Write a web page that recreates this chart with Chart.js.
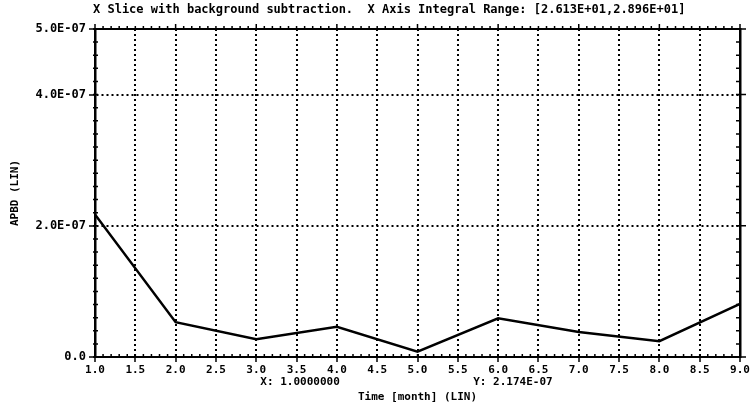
<!DOCTYPE html>
<html>
<head>
<meta charset="utf-8">
<script src="https://cdn.jsdelivr.net/npm/chart.js@4.4.0/dist/chart.umd.min.js"></script>
<style>
  html, body { margin: 0; padding: 0; background: #fff; }
  canvas { display: block; }
</style>
</head>
<body>
<canvas id="slice" width="752" height="406"></canvas>
<script>
// data (month vs APBD)
const months = [1, 2, 3, 4, 5, 6, 7, 8, 9];
const apbd = [2.174e-7, 0.53e-7, 0.27e-7, 0.46e-7, 0.08e-7, 0.59e-7, 0.38e-7, 0.24e-7, 0.81e-7];

const xTickValues = [1, 1.5, 2, 2.5, 3, 3.5, 4, 4.5, 5, 5.5, 6, 6.5, 7, 7.5, 8, 8.5, 9];
const xTickLabels = ['1.0', '1.5', '2.0', '2.5', '3.0', '3.5', '4.0', '4.5', '5.0', '5.5', '6.0', '6.5', '7.0', '7.5', '8.0', '8.5', '9.0'];
const yTickValues = [0, 2e-7, 4e-7, 5e-7];
const yTickLabels = ['0.0', '2.0E-07', '4.0E-07', '5.0E-07'];
const xMinorStep = 0.1;
const yMinorStep = 0.2e-7;

const titleText = 'X Slice with background subtraction.  X Axis Integral Range: [2.613E+01,2.896E+01]';
const xTitle = 'Time [month] (LIN)';
const yTitle = 'APBD (LIN)';
const cursorX = 'X: 1.0000000';
const cursorY = 'Y: 2.174E-07';

const FONT = '"DejaVu Sans Mono", "Liberation Mono", monospace';

// minor ticks on all four sides of the frame
const frameTicks = {
  id: 'frameTicks',
  afterDraw(chart) {
    const { ctx, chartArea: a, scales: { x, y } } = chart;
    ctx.save();
    ctx.strokeStyle = '#000';
    ctx.lineWidth = 1.5;
    ctx.beginPath();
    const nx = Math.round((x.max - x.min) / xMinorStep);
    for (let i = 0; i <= nx; i++) {
      const px = x.getPixelForValue(x.min + i * xMinorStep);
      const major = i % 10 === 0;
      ctx.moveTo(px, a.bottom - 3); ctx.lineTo(px, a.bottom + 1);
      ctx.moveTo(px, a.top + 1); ctx.lineTo(px, a.top - (major ? 5 : 3));
    }
    const ny = Math.round((y.max - y.min) / yMinorStep);
    for (let i = 0; i <= ny; i++) {
      const py = y.getPixelForValue(y.min + i * yMinorStep);
      ctx.moveTo(a.left - 2, py); ctx.lineTo(a.left + 3, py);
      ctx.moveTo(a.right - 4, py); ctx.lineTo(a.right + 1, py);
    }
    yTickValues.forEach(v => {
      const py = y.getPixelForValue(v);
      ctx.moveTo(a.right, py); ctx.lineTo(a.right + 6, py);
    });
    ctx.stroke();
    ctx.restore();
  }
};

// title, axis titles and the cursor readout
const labels = {
  id: 'labels',
  afterDraw(chart) {
    const { ctx, chartArea: a } = chart;
    ctx.save();
    ctx.fillStyle = '#000';
    ctx.font = 'bold 12px ' + FONT;
    ctx.textBaseline = 'middle';
    ctx.textAlign = 'left';
    ctx.fillText(titleText, a.left - 2, 10);

    ctx.font = 'bold 11px ' + FONT;
    ctx.textAlign = 'center';
    ctx.fillText(cursorX, a.left + (a.right - a.left) * 0.318, 382);
    ctx.fillText(cursorY, a.left + (a.right - a.left) * 0.648, 382);
    ctx.fillText(xTitle, (a.left + a.right) / 2, 397);

    ctx.translate(15, (a.top + a.bottom) / 2);
    ctx.rotate(-Math.PI / 2);
    ctx.fillText(yTitle, 0, 0);
    ctx.restore();
  }
};

const dotted = {
  color: '#000',
  lineWidth: 2,
  drawTicks: true,
  tickLength: 5,
  tickWidth: 1.5,
  tickBorderDash: []
};

new Chart(document.getElementById('slice'), {
  type: 'line',
  data: {
    datasets: [{
      data: months.map((m, i) => ({ x: m, y: apbd[i] })),
      borderColor: '#000',
      borderWidth: 2.5,
      pointRadius: 0,
      tension: 0,
      fill: false
    }]
  },
  options: {
    responsive: false,
    animation: false,
    events: [],
    layout: { padding: { left: 0, right: 12, top: 29, bottom: 0 } },
    plugins: { legend: { display: false }, title: { display: false }, tooltip: { enabled: false } },
    scales: {
      x: {
        type: 'linear',
        position: 'bottom',
        min: 1,
        max: 9,
        afterBuildTicks: s => { s.ticks = xTickValues.map(v => ({ value: v })); },
        afterFit: s => { s.height = 49; },
        ticks: {
          autoSkip: false,
          maxRotation: 0,
          padding: 2,
          color: '#000',
          font: { family: FONT, size: 11, weight: 'bold' },
          callback: (v, i) => xTickLabels[i]
        },
        grid: { ...dotted },
        border: { display: true, color: '#000', width: 2, dash: [2, 3] }
      },
      x2: {
        type: 'linear',
        position: 'top',
        min: 1,
        max: 9,
        afterFit: s => { s.height = 0; },
        ticks: { display: false },
        grid: { display: false, drawTicks: false },
        border: { display: true, color: '#000', width: 2 }
      },
      y: {
        type: 'linear',
        position: 'left',
        min: 0,
        max: 5e-7,
        afterBuildTicks: s => { s.ticks = yTickValues.map(v => ({ value: v })); },
        afterFit: s => { s.width = 95; },
        ticks: {
          padding: 3,
          color: '#000',
          font: { family: FONT, size: 12, weight: 'bold' },
          callback: (v, i) => yTickLabels[i]
        },
        grid: { ...dotted, tickLength: 6 },
        border: { display: true, color: '#000', width: 2.5, dash: [2, 3] }
      },
      y2: {
        type: 'linear',
        position: 'right',
        min: 0,
        max: 5e-7,
        afterFit: s => { s.width = 0; },
        ticks: { display: false },
        grid: { display: false, drawTicks: false },
        border: { display: true, color: '#000', width: 2.5 }
      }
    }
  },
  plugins: [frameTicks, labels]
});
</script>
</body>
</html>
